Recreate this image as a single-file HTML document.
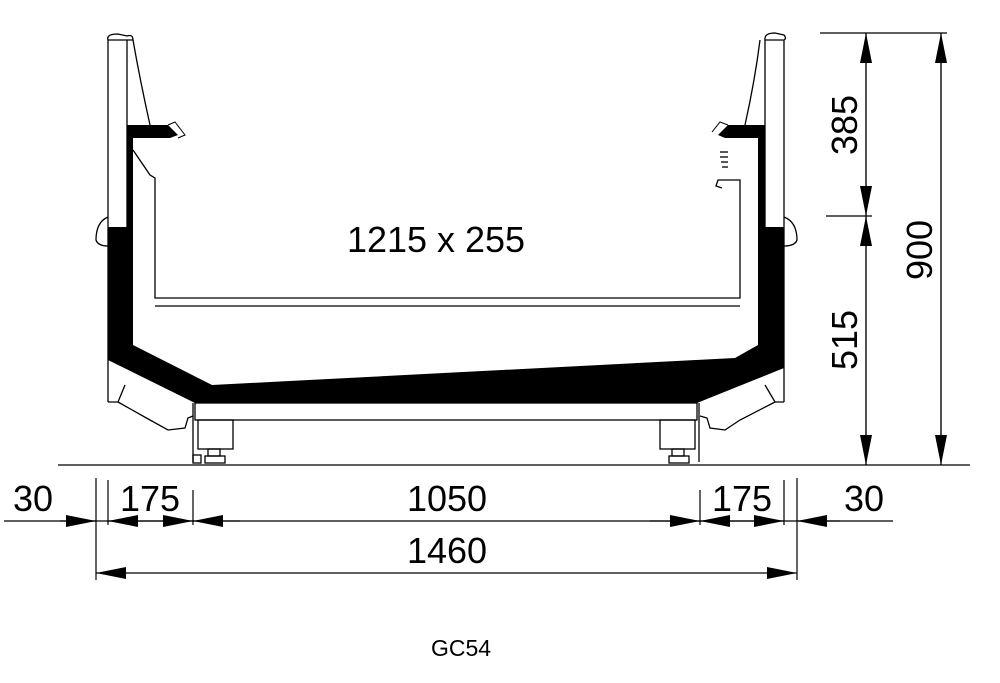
<!DOCTYPE html>
<html><head><meta charset="utf-8"><style>html,body{margin:0;padding:0;background:#fff}svg{display:block}</style></head>
<body>
<svg width="1000" height="683" viewBox="0 0 1000 683" xmlns="http://www.w3.org/2000/svg" font-family="Liberation Sans, Arial, sans-serif">
<defs>
<marker id="a" viewBox="0 0 30 12" refX="30" refY="6" markerWidth="30" markerHeight="12" markerUnits="userSpaceOnUse" orient="auto"><path d="M0,0 L30,6 L0,12 Z" fill="#000"/></marker>
</defs>
<g fill="none" stroke="#000" stroke-width="1.3">
<path d="M108,40 Q106,34 118,34 L127,36 Q133,34 133,40 L127,40 L108,40 Z"/>
<line x1="108" y1="40" x2="108" y2="402"/>
<line x1="127" y1="40" x2="127" y2="227"/>
<path d="M133,40 Q140,80 150,125"/>
<path d="M133,150 L150,175 L155,178 L155,298 L740,298 L740,180 L730,180"/>
<line x1="155" y1="306" x2="740" y2="306"/>
<path d="M108,217 Q96,222 96,240 Q98,246 108,246"/>
<path d="M765,40 Q764,33 775,33 L784,35 Q787,38 784,40 Z"/>
<line x1="784" y1="40" x2="784" y2="402"/>
<line x1="765" y1="40" x2="765" y2="227"/>
<path d="M760,40 Q755,80 745,125"/>
<path d="M784,217 Q797,222 797,240 Q795,246 784,246"/>
<path d="M730,180 L718,180 L716,186 L722,188"/>
<line x1="720" y1="152" x2="728" y2="152"/><line x1="720" y1="157" x2="728" y2="157"/><line x1="721" y1="162" x2="728" y2="162"/><line x1="722" y1="167" x2="728" y2="167"/>
<rect x="195" y="403" width="502" height="17"/>
<line x1="193" y1="403" x2="193" y2="462"/><line x1="699" y1="403" x2="699" y2="462"/>
<path d="M108,402 L118,402 L125,385 M118,402 L150,420 L168,430 L185,428 L188,418 L193,416"/>
<path d="M784,402 L775,402 L765,385 M775,402 L740,420 L725,430 L710,428 L707,418 L700,416"/>
<rect x="198" y="420" width="35" height="29"/><rect x="208" y="449" width="12" height="7"/><rect x="205" y="456" width="20" height="7"/>
<rect x="660" y="420" width="35" height="29"/><rect x="672" y="449" width="12" height="7"/><rect x="669" y="456" width="20" height="7"/>
<rect x="193" y="455" width="8" height="8"/>
<line x1="58" y1="465" x2="970" y2="465"/>
</g>
<path fill="#000" d="M108,227 L133,227 L133,345 L212,385 L735,358 L758,345 L758,227 L784,227 L784,368 L697,403 L195,403 L108,360 Z"/>
<path fill="#000" d="M127,125 L168,125 L178,135 L170,138 L133,138 L133,227 L127,227 Z"/>
<path fill="#000" d="M765,125 L728,125 L718,135 L725,138 L758,138 L758,227 L765,227 Z"/>
<path d="M168,125 L175,122 L185,135 L178,138 M728,125 L720,122 L712,132" fill="none" stroke="#000"/>
<g stroke="#000" stroke-width="1.2" fill="none">
<line x1="820" y1="33" x2="947" y2="33"/>
<line x1="826" y1="216" x2="872" y2="216"/>
<line x1="866" y1="216" x2="866" y2="33" marker-end="url(#a)"/>
<line x1="866" y1="33" x2="866" y2="216" marker-end="url(#a)"/>
<line x1="866" y1="465" x2="866" y2="216" marker-end="url(#a)"/>
<line x1="866" y1="216" x2="866" y2="465" marker-end="url(#a)"/>
<line x1="941" y1="465" x2="941" y2="33" marker-end="url(#a)"/>
<line x1="941" y1="33" x2="941" y2="465" marker-end="url(#a)"/>
<line x1="96" y1="478" x2="96" y2="580"/><line x1="108" y1="480" x2="108" y2="525"/><line x1="193" y1="490" x2="193" y2="525"/>
<line x1="700" y1="490" x2="700" y2="525"/><line x1="784" y1="480" x2="784" y2="525"/><line x1="797" y1="478" x2="797" y2="580"/>
<line x1="4" y1="521" x2="893" y2="521"/>
<line x1="60" y1="521" x2="96" y2="521" marker-end="url(#a)"/>
<line x1="150" y1="521" x2="108" y2="521" marker-end="url(#a)"/>
<line x1="150" y1="521" x2="193" y2="521" marker-end="url(#a)"/>
<line x1="240" y1="521" x2="193" y2="521" marker-end="url(#a)"/>
<line x1="650" y1="521" x2="700" y2="521" marker-end="url(#a)"/>
<line x1="740" y1="521" x2="700" y2="521" marker-end="url(#a)"/>
<line x1="740" y1="521" x2="784" y2="521" marker-end="url(#a)"/>
<line x1="840" y1="521" x2="797" y2="521" marker-end="url(#a)"/>
<line x1="446" y1="573" x2="96" y2="573" marker-end="url(#a)"/>
<line x1="446" y1="573" x2="797" y2="573" marker-end="url(#a)"/>
</g>
<g fill="#000" font-size="36" text-anchor="middle">
<text x="436" y="252" textLength="178" lengthAdjust="spacingAndGlyphs">1215 x 255</text>
<text x="33" y="511">30</text>
<text x="150" y="511">175</text>
<text x="447" y="511">1050</text>
<text x="742" y="511">175</text>
<text x="864" y="511">30</text>
<text x="447" y="563">1460</text>
<text transform="translate(857,125) rotate(-90)">385</text>
<text transform="translate(857,340) rotate(-90)">515</text>
<text transform="translate(932,250) rotate(-90)">900</text>
<text x="461" y="656" font-size="23">GC54</text>
</g>
</svg>
</body></html>
